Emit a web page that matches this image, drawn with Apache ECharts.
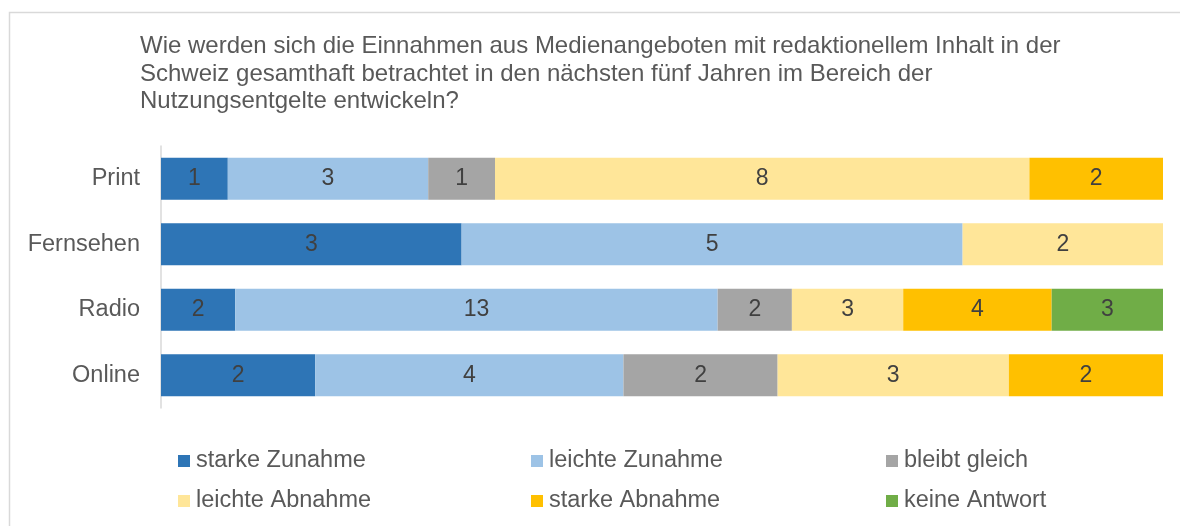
<!DOCTYPE html>
<html><head><meta charset="utf-8">
<script src="https://cdn.jsdelivr.net/npm/echarts@6/dist/echarts.min.js"></script>
<style>html,body{margin:0;padding:0;background:#fff}#c{width:1180px;height:526px}</style>
</head><body><div id="c"></div>
<script>
const categories = ['Print', 'Fernsehen', 'Radio', 'Online'];
const seriesNames = ['starke Zunahme', 'leichte Zunahme', 'bleibt gleich', 'leichte Abnahme', 'starke Abnahme', 'keine Antwort'];
const starkeZunahme  = [1, 3, 2, 2];
const leichteZunahme = [3, 5, 13, 4];
const bleibtGleich   = [1, 0, 2, 2];
const leichteAbnahme = [8, 2, 3, 3];
const starkeAbnahme  = [2, 0, 4, 2];
const keineAntwort   = [0, 0, 3, 0];
const colors = ['#2E75B6', '#9DC3E6', '#A5A5A5', '#FFE699', '#FFC000', '#70AD47'];
const titleText = 'Wie werden sich die Einnahmen aus Medienangeboten mit redaktionellem Inhalt in der\nSchweiz gesamthaft betrachtet in den nächsten fünf Jahren im Bereich der\nNutzungsentgelte entwickeln?';

const allSeries = [starkeZunahme, leichteZunahme, bleibtGleich, leichteAbnahme, starkeAbnahme, keineAntwort];
const totals = categories.map((_, i) => allSeries.reduce((s, a) => s + a[i], 0));
const FONT = '"Liberation Sans", Arial, sans-serif';

const legendPos = [
  {left: 178, top: 449}, {left: 531, top: 449}, {left: 886, top: 449},
  {left: 178, top: 489}, {left: 531, top: 489}, {left: 886, top: 489}
];

const chart = echarts.init(document.getElementById('c'), null, {renderer: 'canvas'});
chart.setOption({
  animation: false,
  backgroundColor: '#fff',
  color: colors,
  graphic: [{
    type: 'rect', left: 7, top: 10, silent: true,
    shape: {width: 1250, height: 600},
    style: {fill: 'none', stroke: '#D9D9D9', lineWidth: 1.5}
  }],
  title: {
    text: titleText, left: 140, top: 33, padding: 0,
    textStyle: {fontFamily: FONT, fontSize: 24, fontWeight: 'normal', color: '#595959', lineHeight: 27.5}
  },
  legend: seriesNames.map((name, j) => ({
    data: [name], left: legendPos[j].left, top: legendPos[j].top,
    padding: 0, itemWidth: 12, itemHeight: 12, itemGap: 6, icon: 'rect',
    selectedMode: false,
    textStyle: {fontFamily: FONT, fontSize: 23.5, color: '#595959', lineHeight: 24, padding: [0, 0, 0, 1]}
  })),
  grid: {left: 161, right: 17, top: 146, bottom: 118, containLabel: false},
  xAxis: {type: 'value', min: 0, max: 100, show: false},
  yAxis: {
    type: 'category', data: categories, inverse: true,
    axisLine: {show: true, lineStyle: {color: '#D9D9D9', width: 1.5}},
    axisTick: {show: false}, splitLine: {show: false},
    axisLabel: {fontFamily: FONT, fontSize: 23.5, color: '#595959', margin: 21}
  },
  series: allSeries.map((arr, k) => ({
    name: seriesNames[k], type: 'bar', stack: 'total', barWidth: 42,
    data: arr.map((v, i) => ({value: v / totals[i] * 100, raw: v})),
    itemStyle: {color: colors[k]},
    label: {
      show: true, position: 'inside', fontFamily: FONT, fontSize: 23, color: '#404040',
      formatter: p => (p.data.raw ? String(p.data.raw) : '')
    }
  }))
});
</script></body></html>
